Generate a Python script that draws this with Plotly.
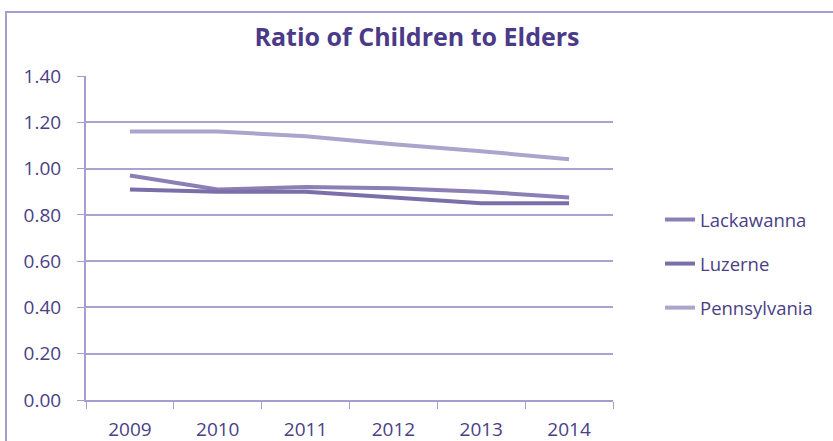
import plotly.graph_objects as go

years = ["2009", "2010", "2011", "2012", "2013", "2014"]
lackawanna = [0.97, 0.91, 0.92, 0.915, 0.90, 0.875]
luzerne = [0.91, 0.90, 0.90, 0.875, 0.85, 0.85]
pennsylvania = [1.16, 1.16, 1.14, 1.105, 1.075, 1.04]
y_ticks = [0, 0.2, 0.4, 0.6, 0.8, 1.0, 1.2, 1.4]

series = [("Lackawanna", lackawanna, "#8a80b6"),
          ("Luzerne", luzerne, "#7b6fa9"),
          ("Pennsylvania", pennsylvania, "#aba4cd")]

fig = go.Figure()
for i, (name, vals, col) in enumerate(series):
    fig.add_trace(go.Scatter(x=years, y=vals, name=name, mode="lines",
                             line=dict(color=col, width=4),
                             legendgroup=name))

font_fam = "Open Sans, sans-serif"
L, R, T, B = 86, 220, 76, 41
W, H = 833, 441
pw = W - L - R
ph = H - T - B

fig.update_layout(
    width=W, height=H,
    margin=dict(l=L, r=R, t=T, b=B),
    paper_bgcolor="white", plot_bgcolor="white",
    title=dict(text="<b>Ratio of Children to Elders</b>", x=(417 - L) / pw, xref="paper",
               xanchor="center", y=1 - 37 / H, yanchor="middle",
               font=dict(family=font_fam, size=25, color="#4a3a88")),
    font=dict(family=font_fam, size=18.5, color="#4a3f85"),
    showlegend=True,
    legend=dict(x=(660 - L) / pw, xanchor="left", y=1 - (201 - T) / ph, yanchor="top",
                tracegroupgap=17, bgcolor="rgba(0,0,0,0)",
                font=dict(family=font_fam, size=18.5, color="#4a3f85")),
    xaxis=dict(type="category", range=[-0.5, 5.5], showline=True, linecolor="#a49dd0",
               linewidth=2, ticks="outside", tickson="boundaries", ticklen=7,
               tickcolor="#a49dd0", showgrid=False, tickfont=dict(size=19),
               ticklabelstandoff=11, automargin=False),
    yaxis=dict(range=[0, 1.4], tickvals=y_ticks, tickformat=".2f", showline=True,
               linecolor="#a49dd0", linewidth=2, ticks="outside", ticklen=7,
               tickcolor="#a49dd0", gridcolor="#a9a3d2", gridwidth=1.5,
               zeroline=False, tickfont=dict(size=19), ticklabelstandoff=12,
               automargin=False),
    shapes=[dict(type="rect", xref="paper", yref="paper",
                 x0=(6 - L) / pw, x1=(W + 20 - L) / pw,
                 y0=-(B + 20) / ph, y1=1 + (T - 12) / ph,
                 line=dict(color="#a49dd0", width=2), layer="below")],
)

fig.write_html("out.html")
